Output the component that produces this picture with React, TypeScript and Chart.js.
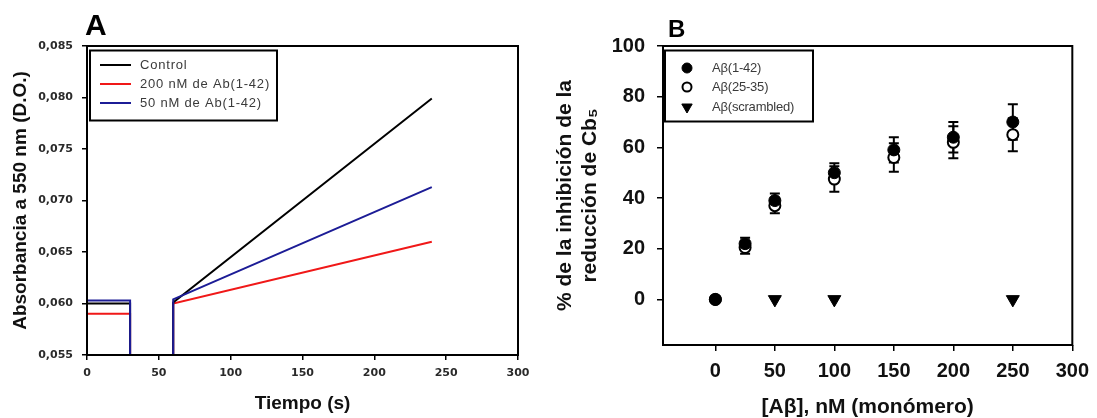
import React, { useEffect, useRef } from 'react';
import { Chart, registerables } from 'chart.js';
Chart.register(...registerables);

// ---------- Panel A data ----------
const timeA = [0, 30, 30, 45, 60, 60, 240];
const controlA = [0.06, 0.06, 0.055, null, 0.055, 0.0601, 0.0799];
const ab200A = [0.059, 0.059, 0.055, null, 0.055, 0.06, 0.066];
const ab50A = [0.0603, 0.0603, 0.055, null, 0.055, 0.0604, 0.0713];
const xTicksA = [0, 50, 100, 150, 200, 250, 300];
const yTicksA = [0.055, 0.06, 0.065, 0.07, 0.075, 0.08, 0.085];
const labelsA = ['Control', '200 nM de Ab(1-42)', '50 nM de Ab(1-42)'];

// ---------- Panel B data ----------
const concB = [0, 25, 50, 100, 150, 200, 250];
const ab142B = [0, 22, 39, 50, 59, 64, 70];
const ab142Err = [0, 2.3, 2.8, 3.7, 5, 6, 7];
const ab2535B = [0, 20.5, 37, 47.5, 56, 62, 65];
const ab2535Err = [0, 2.5, 3, 5, 5.6, 6.3, 6.5];
const scrambledConc = [50, 100, 250];
const scrambledB = [0, 0, 0];
const xTicksB = [0, 50, 100, 150, 200, 250, 300];
const yTicksB = [0, 20, 40, 60, 80, 100];
const labelsB = ['Aβ(1-42)', 'Aβ(25-35)', 'Aβ(scrambled)'];

const SANS = "'Liberation Sans', Arial, sans-serif";

const pts = (xs: number[], ys: (number | null)[]) => xs.map((x, i) => ({ x, y: ys[i] }));

const framePlugin = {
  id: 'frame',
  afterDatasetsDraw(chart: any, _a: any, o: any) {
    const { ctx, chartArea: a } = chart;
    ctx.save();
    ctx.strokeStyle = '#000';
    ctx.lineWidth = o.width ?? 2;
    ctx.strokeRect(a.left, a.top, a.right - a.left, a.bottom - a.top);
    ctx.restore();
  },
};

const errorBarPlugin = {
  id: 'errorBars',
  beforeDatasetsDraw(chart: any, _a: any, o: any) {
    if (!o || !o.enabled) return;
    const { ctx } = chart;
    const xs = chart.scales.x;
    const ys = chart.scales.y;
    chart.data.datasets.forEach((ds: any) => {
      const errs = ds.errors;
      if (!errs) return;
      ctx.save();
      ctx.strokeStyle = '#000';
      ctx.lineWidth = o.lineWidth;
      ds.data.forEach((p: any, j: number) => {
        const e = errs[j];
        if (!e) return;
        const px = xs.getPixelForValue(p.x);
        const top = ys.getPixelForValue(p.y + e);
        const bot = ys.getPixelForValue(p.y - e);
        ctx.beginPath();
        ctx.moveTo(px, top);
        ctx.lineTo(px, bot);
        ctx.moveTo(px - o.cap, top);
        ctx.lineTo(px + o.cap, top);
        ctx.moveTo(px - o.cap, bot);
        ctx.lineTo(px + o.cap, bot);
        ctx.stroke();
      });
      ctx.restore();
    });
  },
};

function drawMarker(ctx: any, style: string, x: number, y: number, r: number, fill: string, bw: number) {
  ctx.save();
  ctx.beginPath();
  if (style === 'triangleDown') {
    ctx.moveTo(x - r * 0.866, y - r * 0.5);
    ctx.lineTo(x + r * 0.866, y - r * 0.5);
    ctx.lineTo(x, y + r);
    ctx.closePath();
  } else {
    ctx.arc(x, y, r, 0, Math.PI * 2);
  }
  ctx.fillStyle = fill;
  ctx.fill();
  ctx.lineWidth = bw;
  ctx.strokeStyle = '#000';
  ctx.stroke();
  ctx.restore();
}

const boxLegendPlugin = {
  id: 'boxLegend',
  afterDraw(chart: any, _a: any, o: any) {
    if (!o || !o.enabled) return;
    const { ctx } = chart;
    ctx.save();
    ctx.lineWidth = o.borderWidth;
    ctx.strokeStyle = '#000';
    ctx.strokeRect(o.x, o.y, o.w, o.h);
    chart.data.datasets.forEach((ds: any, i: number) => {
      const y = o.rowY[i];
      if (o.kind === 'line') {
        ctx.beginPath();
        ctx.strokeStyle = ds.borderColor;
        ctx.lineWidth = ds.borderWidth;
        ctx.moveTo(o.sampleX0, y);
        ctx.lineTo(o.sampleX1, y);
        ctx.stroke();
      } else {
        drawMarker(ctx, ds.legendStyle, o.markerX, y, ds.legendRadius, ds.pointBackgroundColor, ds.pointBorderWidth);
      }
      ctx.font = o.font;
      ctx.fillStyle = o.color;
      ctx.textBaseline = 'middle';
      ctx.textAlign = 'left';
      if (o.letterSpacing) (ctx as any).letterSpacing = o.letterSpacing;
      ctx.fillText(ds.label, o.textX, y);
      if (o.letterSpacing) (ctx as any).letterSpacing = '0px';
    });
    ctx.restore();
  },
};

const panelLabelPlugin = {
  id: 'panelLabel',
  afterDraw(chart: any, _a: any, o: any) {
    if (!o || !o.text) return;
    const { ctx } = chart;
    ctx.save();
    ctx.font = o.font;
    ctx.fillStyle = '#000';
    ctx.textBaseline = 'alphabetic';
    ctx.textAlign = 'left';
    ctx.fillText(o.text, o.x, o.y);
    ctx.restore();
  },
};

function configA(): any {
  const mk = (label: string, ys: (number | null)[], color: string, order: number) => ({
    label,
    data: pts(timeA, ys),
    borderColor: color,
    backgroundColor: color,
    borderWidth: 2,
    pointRadius: 0,
    spanGaps: false,
    tension: 0,
    order,
  });
  return {
    type: 'line',
    data: {
      datasets: [
        mk(labelsA[0], controlA, '#000000', 1),
        mk(labelsA[1], ab200A, '#f01818', 2),
        mk(labelsA[2], ab50A, '#1c1c96', 0),
      ],
    },
    options: {
      animation: false,
      responsive: false,
      devicePixelRatio: 1,
      events: [],
      layout: { padding: { top: 46, right: 22, left: 0, bottom: 0 } },
      plugins: {
        legend: { display: false },
        tooltip: { enabled: false },
        frame: { width: 2 },
        boxLegend: {
          enabled: true,
          kind: 'line',
          x: 90,
          y: 50.5,
          w: 187,
          h: 70,
          borderWidth: 2,
          rowY: [65, 84, 103],
          sampleX0: 100,
          sampleX1: 131,
          textX: 140,
          font: `13px ${SANS}`,
          color: '#3a3a3a',
          letterSpacing: '0.8px',
        },
        panelLabel: { text: 'A', x: 85, y: 35, font: `bold 30px ${SANS}` },
      },
      scales: {
        x: {
          type: 'linear',
          min: 0,
          max: 300,
          afterBuildTicks: (s: any) => {
            s.ticks = xTicksA.map((v) => ({ value: v }));
          },
          afterFit: (s: any) => {
            s.height = 63;
          },
          border: { display: false },
          grid: { drawOnChartArea: false, drawTicks: true, tickLength: 5, color: '#000', lineWidth: 1.5 },
          ticks: {
            font: { family: "'DejaVu Sans', sans-serif", size: 11, weight: 'bold' },
            color: '#2a2a2a',
            padding: 7,
            maxRotation: 0,
            autoSkip: false,
          },
          title: {
            display: true,
            text: 'Tiempo (s)',
            font: { family: SANS, size: 19, weight: 'bold' },
            color: '#111',
            padding: { top: 0, bottom: 2.6 },
          },
        },
        y: {
          type: 'linear',
          min: 0.055,
          max: 0.085,
          afterBuildTicks: (s: any) => {
            s.ticks = yTicksA.map((v) => ({ value: v }));
          },
          afterFit: (s: any) => {
            s.width = 87;
          },
          border: { display: false },
          grid: { drawOnChartArea: false, drawTicks: true, tickLength: 5, color: '#000', lineWidth: 1.5 },
          ticks: {
            font: { family: "'DejaVu Sans', sans-serif", size: 11, weight: 'bold' },
            color: '#2a2a2a',
            padding: 9,
            autoSkip: false,
            callback: (v: any) => Number(v).toFixed(3).replace('.', ','),
          },
          title: {
            display: true,
            text: 'Absorbancia a 550 nm (D.O.)',
            font: { family: SANS, size: 19, weight: 'bold' },
            color: '#111',
            padding: { top: 9, bottom: 0 },
          },
        },
      },
    },
    plugins: [framePlugin, boxLegendPlugin, panelLabelPlugin],
  };
}

function configB(): any {
  return {
    type: 'scatter',
    data: {
      datasets: [
        {
          label: labelsB[0],
          data: pts(concB, ab142B),
          errors: ab142Err,
          pointStyle: 'circle',
          pointRadius: 6,
          pointBackgroundColor: '#000',
          pointBorderColor: '#000',
          pointBorderWidth: 1,
          legendStyle: 'circle',
          legendRadius: 5,
        },
        {
          label: labelsB[1],
          data: pts(concB, ab2535B),
          errors: ab2535Err,
          pointStyle: 'circle',
          pointRadius: 5.5,
          pointBackgroundColor: '#fff',
          pointBorderColor: '#000',
          pointBorderWidth: 2,
          legendStyle: 'circle',
          legendRadius: 4.5,
        },
        {
          label: labelsB[2],
          data: pts(scrambledConc, scrambledB),
          pointStyle: 'triangle',
          rotation: 180,
          pointRadius: 7.5,
          pointBackgroundColor: '#000',
          pointBorderColor: '#000',
          pointBorderWidth: 1,
          legendStyle: 'triangleDown',
          legendRadius: 6,
        },
      ],
    },
    options: {
      animation: false,
      responsive: false,
      devicePixelRatio: 1,
      events: [],
      layout: { padding: { top: 46, right: 18, left: 0, bottom: 0 } },
      plugins: {
        legend: { display: false },
        tooltip: { enabled: false },
        frame: { width: 2 },
        errorBars: { enabled: true, lineWidth: 2, cap: 5 },
        boxLegend: {
          enabled: true,
          kind: 'marker',
          x: 125,
          y: 50.5,
          w: 148,
          h: 71,
          borderWidth: 2,
          rowY: [68, 87, 107],
          markerX: 147,
          textX: 172,
          font: `13px ${SANS}`,
          color: '#3a3a3a',
          letterSpacing: '-0.2px',
        },
        panelLabel: { text: 'B', x: 128, y: 37, font: `bold 24px ${SANS}` },
      },
      scales: {
        x: {
          type: 'linear',
          min: -44,
          max: 300,
          afterBuildTicks: (s: any) => {
            s.ticks = xTicksB.map((v) => ({ value: v }));
          },
          afterFit: (s: any) => {
            s.height = 73;
          },
          border: { display: false },
          grid: { drawOnChartArea: false, drawTicks: true, tickLength: 6, color: '#000', lineWidth: 1.5 },
          ticks: {
            font: { family: SANS, size: 20, weight: 'bold' },
            color: '#111',
            padding: 8,
            maxRotation: 0,
            autoSkip: false,
          },
          title: {
            display: true,
            text: '[Aβ], nM (monómero)',
            font: { family: SANS, size: 21, weight: 'bold', lineHeight: 1 },
            color: '#111',
            padding: { top: 0, bottom: 0.5 },
          },
        },
        y: {
          type: 'linear',
          min: -18,
          max: 100,
          afterBuildTicks: (s: any) => {
            s.ticks = yTicksB.map((v) => ({ value: v }));
          },
          afterFit: (s: any) => {
            s.width = 123;
          },
          border: { display: false },
          grid: { drawOnChartArea: false, drawTicks: true, tickLength: 6, color: '#000', lineWidth: 1.5 },
          ticks: {
            font: { family: SANS, size: 20, weight: 'bold' },
            color: '#111',
            padding: 12,
            autoSkip: false,
          },
          title: {
            display: true,
            text: ['% de la inhibición de la', 'reducción de Cb₅'],
            font: { family: SANS, size: 21, weight: 'bold', lineHeight: 1.2 },
            color: '#111',
            padding: { top: 12.4, bottom: 0 },
          },
        },
      },
    },
    plugins: [framePlugin, errorBarPlugin, boxLegendPlugin, panelLabelPlugin],
  };
}

function ChartCanvas({ make, width, height, left }: { make: () => any; width: number; height: number; left: number }) {
  const ref = useRef<HTMLCanvasElement | null>(null);
  useEffect(() => {
    if (!ref.current) return;
    const chart = new Chart(ref.current, make());
    return () => chart.destroy();
  }, []);
  return (
    <canvas
      ref={ref}
      width={width}
      height={height}
      style={{ position: 'absolute', left, top: 0, width, height, display: 'block' }}
    />
  );
}

export default function App() {
  return (
    <div style={{ position: 'absolute', left: 0, top: 0, width: 1097, height: 418, background: '#fff', overflow: 'hidden' }}>
      <ChartCanvas make={configA} width={540} height={418} left={0} />
      <ChartCanvas make={configB} width={557} height={418} left={540} />
    </div>
  );
}
